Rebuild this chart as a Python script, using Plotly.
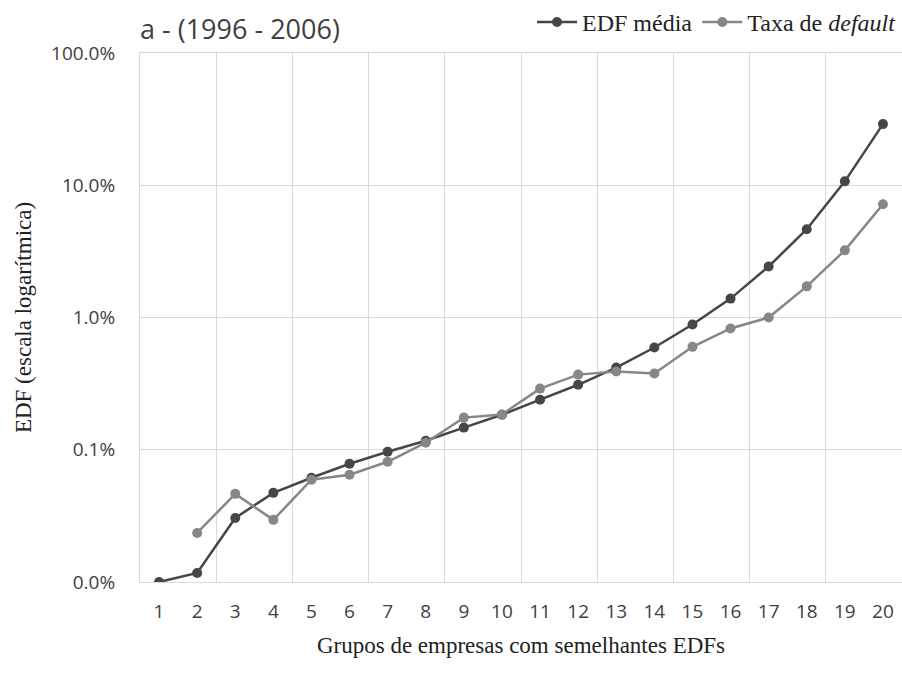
import plotly.graph_objects as go

# Groups of firms with similar EDFs
grupos = list(range(1, 21))

# Mean EDF per group (fraction)
edf_media = [0.0001, 0.000117, 0.000305, 0.000472, 0.000614, 0.000783, 0.000966, 0.00117,
             0.00147, 0.00184, 0.00239, 0.0031, 0.00418, 0.00593, 0.00885, 0.0139,
             0.0243, 0.0465, 0.107, 0.29]

# Observed default rate per group (fraction); group 1 has no observation
taxa_default = [None, 0.000235, 0.000464, 0.000295, 0.000593, 0.000647, 0.000811, 0.00113,
                0.00175, 0.00185, 0.0029, 0.0037, 0.0039, 0.00377, 0.006, 0.00826,
                0.01, 0.0172, 0.0322, 0.0718]

y_tickvals = [0.0001, 0.001, 0.01, 0.1, 1]
y_ticktext = ["0.0%", "0.1%", "1.0%", "10.0%", "100.0%"]

sans = "Open Sans, Noto Sans, sans-serif"
serif = "Liberation Serif, DejaVu Serif, serif"
grid = "#d9d9d9"

fig = go.Figure()
fig.add_trace(go.Scatter(
    x=grupos, y=edf_media, name="EDF média", mode="lines+markers",
    line=dict(color="#464646", width=2.5),
    marker=dict(color="#464646", size=10),
))
fig.add_trace(go.Scatter(
    x=grupos, y=taxa_default, name="Taxa de <i>default</i>", mode="lines+markers",
    line=dict(color="#878787", width=2.5),
    marker=dict(color="#878787", size=10),
))

fig.update_layout(
    width=902, height=675,
    margin=dict(l=140, r=0, t=53, b=93, autoexpand=False),
    paper_bgcolor="white", plot_bgcolor="white",
    title=dict(text="a - (1996 - 2006)", x=140 / 902, xanchor="left",
               y=1 - 30 / 675, yanchor="middle",
               font=dict(family=sans, size=27, color="#404040")),
    legend=dict(orientation="h", x=1, xanchor="right", y=1.058, yanchor="middle",
                font=dict(family=serif, size=24, color="#222222"),
                bgcolor="rgba(0,0,0,0)", itemwidth=40, tracegroupgap=0),
    showlegend=True,
)

fig.update_xaxes(
    range=[0.5, 20.5], tickvals=grupos, ticktext=[str(g) for g in grupos],
    showgrid=False, zeroline=False,
    showline=True, mirror=True, linecolor=grid, linewidth=1,
    ticks="outside", ticklen=12, tickcolor="rgba(0,0,0,0)",
    tickfont=dict(family=sans, size=19, color="#404040"),
    minor=dict(tick0=0.5, dtick=2, showgrid=True, gridcolor=grid, gridwidth=1),
    title=dict(text="Grupos de empresas com semelhantes EDFs",
               font=dict(family=serif, size=23, color="#222222"), standoff=14),
)
fig.update_yaxes(
    type="log", range=[-4, 0], tickvals=y_tickvals, ticktext=y_ticktext,
    showgrid=True, gridcolor=grid, gridwidth=1, zeroline=False,
    showline=True, mirror=False, linecolor=grid, linewidth=1,
    ticks="outside", ticklen=20, tickcolor="rgba(0,0,0,0)",
    tickfont=dict(family=sans, size=19, color="#404040"),
    title=dict(text="EDF (escala logarítmica)",
               font=dict(family=serif, size=23, color="#222222"), standoff=12),
)

fig.write_html("out.html")
